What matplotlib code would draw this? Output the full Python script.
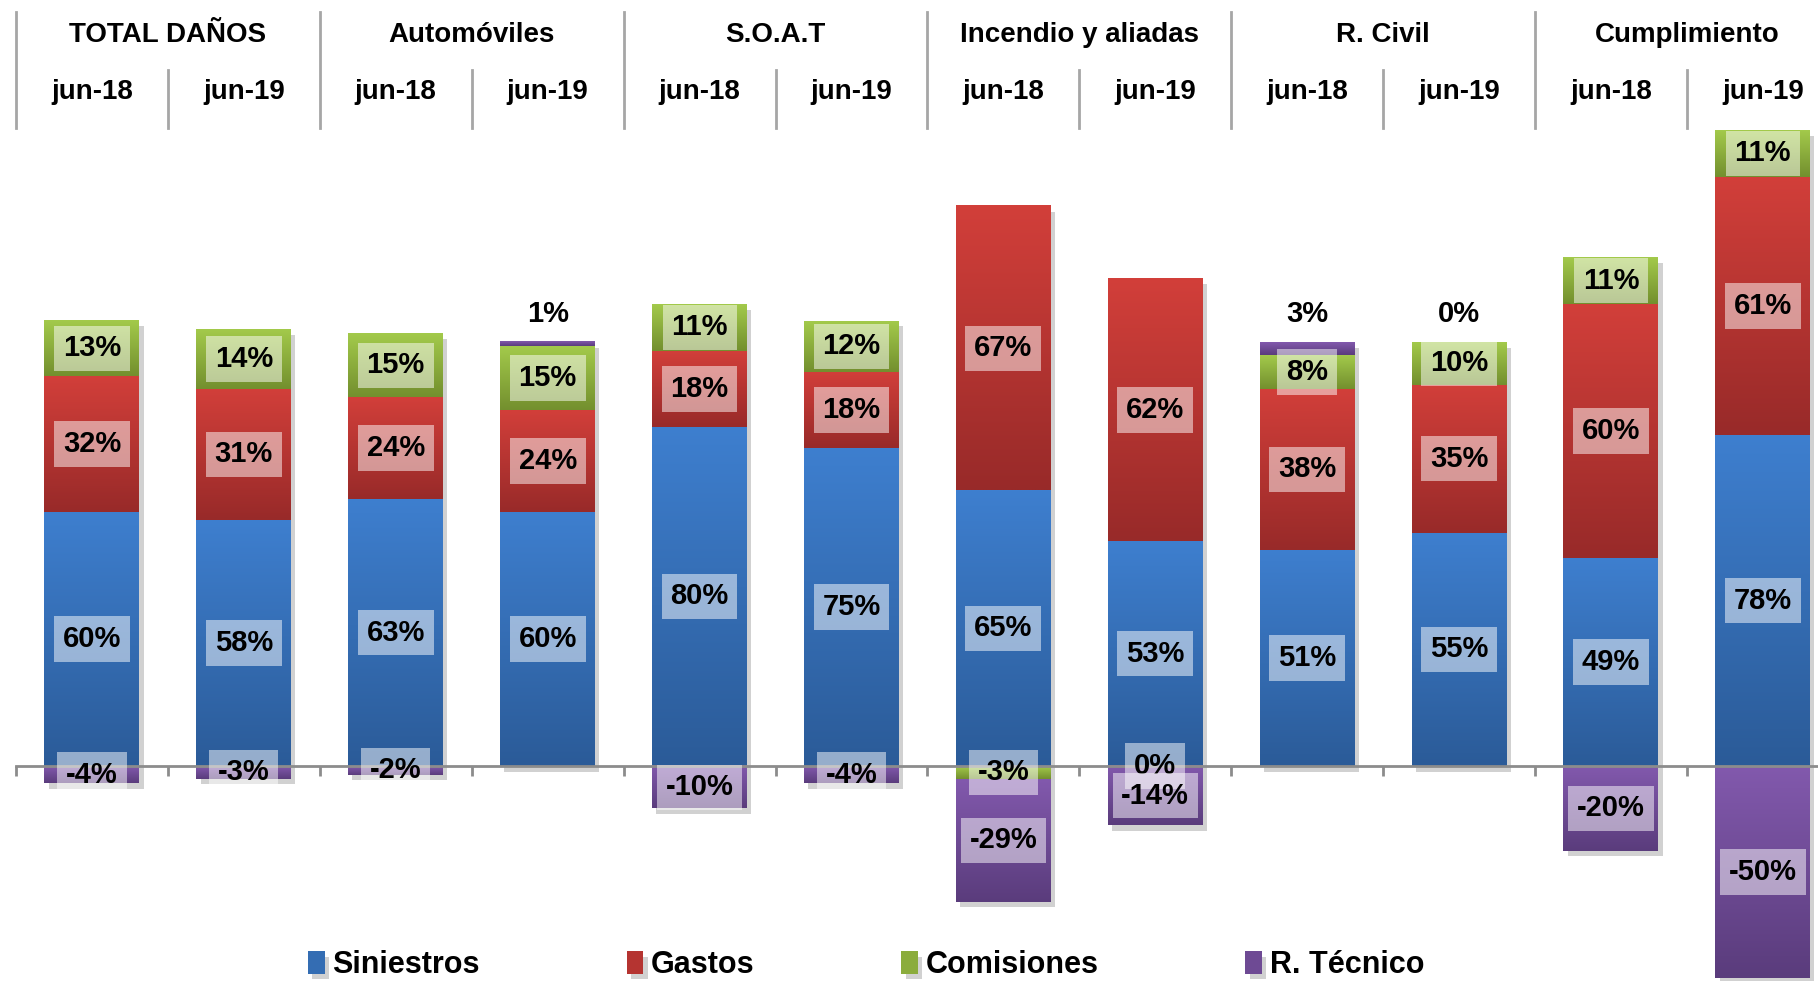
import numpy as np
import matplotlib.pyplot as plt
import matplotlib.patheffects as pe
from matplotlib.colors import LinearSegmentedColormap
from matplotlib.transforms import blended_transform_factory

plt.rcParams['font.family'] = ['Liberation Sans', 'DejaVu Sans']
plt.rcParams['font.weight'] = 'bold'

# datos
grupos = ['TOTAL DAÑOS', 'Automóviles', 'S.O.A.T', 'Incendio y aliadas', 'R. Civil', 'Cumplimiento']
periodos = ['jun-18', 'jun-19']
siniestros = [60, 58, 63, 60, 80, 75, 65, 53, 51, 55, 49, 78]
gastos = [32, 31, 24, 24, 18, 18, 67, 62, 38, 35, 60, 61]
comisiones = [13, 14, 15, 15, 11, 12, -3, 0, 8, 10, 11, 11]
r_tecnico = [-4, -3, -2, 1, -10, -4, -29, -14, 3, 0, -20, -50]

series = [
    ('Siniestros', siniestros, '#3e7fcf', '#2b5b98'),
    ('Gastos', gastos, '#d23f3a', '#982a29'),
    ('Comisiones', comisiones, '#a3ca4b', '#738f2e'),
    ('R. Técnico', r_tecnico, '#8259ad', '#5a3c7c'),
]

W, H = 1818, 981
fig = plt.figure(figsize=(W / 100, H / 100), dpi=100)
slot = 151.9
ax = fig.add_axes([16 / W, 0, 12 * slot / W, 1])
ax.patch.set_visible(False)

n = len(siniestros)
x = np.arange(n)
ancho = 0.625
pos_base = np.zeros(n)
neg_base = np.zeros(n)
label_pos = []

for nombre, vals, c_top, c_bot in series:
    vals = np.array(vals, dtype=float)
    bottoms = np.where(vals > 0, pos_base, neg_base)
    mid = LinearSegmentedColormap.from_list('m', [c_top, c_bot])(0.5)
    bars = ax.bar(x, vals, ancho, bottom=bottoms, color=mid, label=nombre, zorder=2,
                  path_effects=[pe.SimplePatchShadow(offset=(3, -4), shadow_rgbFace='k', alpha=0.18), pe.Normal()])
    # degradado vertical en cada segmento
    cmap = LinearSegmentedColormap.from_list(nombre, [c_top, c_bot])
    grad = np.linspace(0, 1, 256).reshape(-1, 1)
    for b in bars:
        x0, y0 = b.get_xy()
        h = b.get_height()
        if h == 0:
            continue
        ax.imshow(grad, extent=[x0, x0 + b.get_width(), min(y0, y0 + h), max(y0, y0 + h)],
                  aspect='auto', cmap=cmap, zorder=2.2, interpolation='bilinear')
    label_pos.append((nombre, vals, bottoms))
    pos_base += np.clip(vals, 0, None)
    neg_base += np.clip(vals, None, 0)

# etiquetas
for nombre, vals, bottoms in label_pos:
    for i, v in enumerate(vals):
        if nombre == 'R. Técnico' and v >= 0:
            ax.annotate(f'{v:.0f}%', (x[i], pos_base[i]), xytext=(0, 20), textcoords='offset points',
                        ha='center', va='center', fontsize=21, fontweight='bold', zorder=5)
        else:
            ax.text(x[i], bottoms[i] + v / 2, f'{v:.0f}%', ha='center', va='center',
                    fontsize=21, fontweight='bold', zorder=5,
                    bbox=dict(boxstyle='square,pad=0.3', fc='white', ec='none', alpha=0.5))

# eje en cero
ax.set_xlim(-0.5, n - 0.5)
ax.set_ylim(-50.7, 180.7)
for s in ['top', 'left', 'right']:
    ax.spines[s].set_visible(False)
ax.spines['bottom'].set_position(('data', 0))
ax.spines['bottom'].set_color('#8c8c8c')
ax.spines['bottom'].set_linewidth(2)
ax.spines['bottom'].set_zorder(3)
ax.set_xticks(np.arange(-0.5, n, 1))
ax.tick_params(axis='x', direction='out', length=7, width=2, color='#8c8c8c', labelbottom=False)
ax.set_yticks([])

# encabezado
tr = blended_transform_factory(ax.transData, fig.transFigure)
for k, g in enumerate(grupos):
    ax.text(2 * k + 0.5, 1 - 42 / H, g, transform=tr, ha='center', va='baseline',
            fontsize=20, fontweight='bold', clip_on=False)
    for j, p in enumerate(periodos):
        ax.text(2 * k + j, 1 - 99 / H, p, transform=tr, ha='center', va='baseline',
                fontsize=20, fontweight='bold', clip_on=False)
    ax.plot([2 * k - 0.5] * 2, [1 - 12 / H, 1 - 128 / H], transform=tr, color='#a6a6a6', lw=2, clip_on=False)
    ax.plot([2 * k + 0.5] * 2, [1 - 70 / H, 1 - 128 / H], transform=tr, color='#a6a6a6', lw=2, clip_on=False)

fig.legend(loc='center left', bbox_to_anchor=(308 / W, 16 / H), ncol=4, frameon=False,
           prop={'size': 22, 'weight': 'bold'}, handlelength=0.55, handleheight=0.75,
           handletextpad=0.25, columnspacing=4.8, borderpad=0, borderaxespad=0)

fig.savefig('out.png', dpi=100)
